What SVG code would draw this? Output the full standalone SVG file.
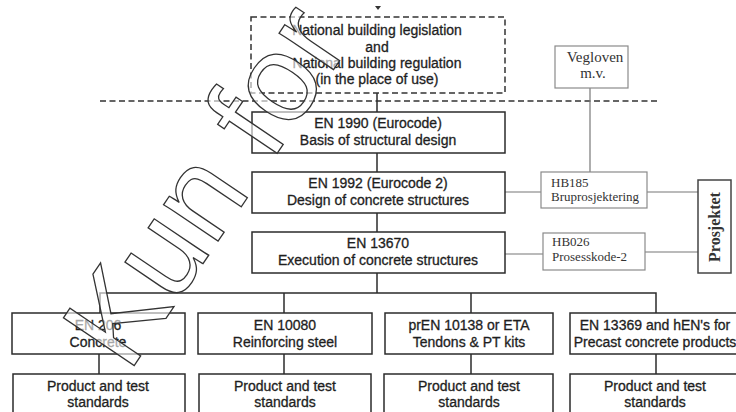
<svg xmlns="http://www.w3.org/2000/svg" width="736" height="412" viewBox="0 0 736 412">
<style>
.bx{fill:#fff;stroke:#2b2b2b;stroke-width:1.5}
.hb{fill:#fff;stroke:#8a8a8a;stroke-width:1.2}
.ds{fill:none;stroke:#333;stroke-width:1.5;stroke-dasharray:6 3.5}
.ln{fill:none;stroke:#2b2b2b;stroke-width:1.5}
.lg{fill:none;stroke:#777;stroke-width:1.2}
.t{font-family:"Liberation Sans",Arial,sans-serif;font-size:14px;fill:#1e1e1e;stroke:#1e1e1e;stroke-width:0.3;text-anchor:middle}
.s{font-family:"Liberation Serif","Times New Roman",serif;fill:#333}
.wm{font-family:"Liberation Sans",Arial,sans-serif;font-size:124px;fill:#fff;fill-opacity:0.6;stroke:#333;stroke-width:1.3}
</style>
<rect width="736" height="412" fill="#fff"/>
<g id="connectors">
<line class="ds" x1="100" y1="101" x2="658" y2="101"/>
<line class="ln" x1="377" y1="93" x2="377" y2="112"/>
<line class="ln" x1="377" y1="153" x2="377" y2="172"/>
<line class="ln" x1="377" y1="213" x2="377" y2="232"/>
<line class="ln" x1="377" y1="273" x2="377" y2="293"/>
<polyline class="ln" points="100,313 100,293 656,293 656,313"/>
<line class="ln" x1="284" y1="293" x2="284" y2="313"/>
<line class="ln" x1="471" y1="293" x2="471" y2="313"/>
<line class="ln" x1="99" y1="354" x2="99" y2="374"/>
<line class="ln" x1="284" y1="354" x2="284" y2="374"/>
<line class="ln" x1="471" y1="354" x2="471" y2="374"/>
<line class="ln" x1="656" y1="354" x2="656" y2="374"/>
<line class="lg" x1="590" y1="88" x2="590" y2="172"/>
<line class="lg" x1="505" y1="192" x2="541" y2="192"/>
<line class="lg" x1="647" y1="192" x2="698" y2="192"/>
<line class="lg" x1="505" y1="254" x2="543" y2="254"/>
<line class="lg" x1="645" y1="252" x2="698" y2="252"/>
<polygon points="375,6 381,6 378,10" fill="#333"/>
</g>
<g id="national">
<rect class="ds" x="251" y="17" width="254" height="76"/>
<text class="t" x="377" y="35">National building legislation</text>
<text class="t" x="377" y="51.5">and</text>
<text class="t" x="377" y="68">National building regulation</text>
<text class="t" x="377" y="84">(in the place of use)</text>
</g>
<g id="en1990">
<rect class="bx" x="252" y="112" width="253" height="41"/>
<text class="t" x="378" y="128">EN 1990 (Eurocode)</text>
<text class="t" x="378" y="145">Basis of structural design</text>
</g>
<g id="en1992">
<rect class="bx" x="252" y="172" width="253" height="41"/>
<text class="t" x="378" y="188">EN 1992 (Eurocode 2)</text>
<text class="t" x="378" y="205">Design of concrete structures</text>
</g>
<g id="en13670">
<rect class="bx" x="252" y="232" width="253" height="41"/>
<text class="t" x="378" y="248">EN 13670</text>
<text class="t" x="378" y="265">Execution of concrete structures</text>
</g>
<g id="vegloven">
<rect class="hb" x="555" y="46" width="73" height="42"/>
<text class="s" x="595" y="62" font-size="15" text-anchor="middle">Vegloven</text>
<text class="s" x="593" y="78" font-size="15" text-anchor="middle">m.v.</text>
</g>
<g id="hb185">
<rect class="hb" x="541" y="172" width="106" height="36"/>
<text class="s" x="551" y="187" font-size="13">HB185</text>
<text class="s" x="551" y="201" font-size="13">Bruprosjektering</text>
</g>
<g id="hb026">
<rect class="hb" x="543" y="233" width="102" height="37"/>
<text class="s" x="552" y="246" font-size="13">HB026</text>
<text class="s" x="552" y="261" font-size="13">Prosesskode-2</text>
</g>
<g id="prosjektet">
<rect x="698" y="180" width="33" height="93" fill="#fff" stroke="#444" stroke-width="1.5"/>
<text class="s" transform="translate(720,227) rotate(-90)" font-size="16" font-weight="bold" text-anchor="middle" fill="#222">Prosjektet</text>
</g>
<g id="en206">
<rect class="bx" x="12" y="313" width="173" height="41"/>
<text class="t" x="98" y="330">EN 206</text>
<text class="t" x="98" y="347">Concrete</text>
</g>
<g id="en10080">
<rect class="bx" x="198" y="313" width="174" height="41"/>
<text class="t" x="285" y="330">EN 10080</text>
<text class="t" x="285" y="347">Reinforcing steel</text>
</g>
<g id="pren10138">
<rect class="bx" x="385" y="313" width="168" height="41"/>
<text class="t" x="469" y="330">prEN 10138 or ETA</text>
<text class="t" x="469" y="347">Tendons &amp; PT kits</text>
</g>
<g id="en13369">
<rect class="bx" x="570" y="313" width="175" height="41"/>
<text class="t" x="655" y="330">EN 13369 and hEN's for</text>
<text class="t" x="655" y="347">Precast concrete products</text>
</g>
<g id="pts1">
<rect class="bx" x="13" y="374" width="172" height="50"/>
<text class="t" x="98" y="391">Product and test</text>
<text class="t" x="98" y="407">standards</text>
</g>
<g id="pts2">
<rect class="bx" x="199" y="374" width="172" height="50"/>
<text class="t" x="285" y="391">Product and test</text>
<text class="t" x="285" y="407">standards</text>
</g>
<g id="pts3">
<rect class="bx" x="384" y="374" width="169" height="50"/>
<text class="t" x="469" y="391">Product and test</text>
<text class="t" x="469" y="407">standards</text>
</g>
<g id="pts4">
<rect class="bx" x="570" y="374" width="175" height="50"/>
<text class="t" x="655" y="391">Product and test</text>
<text class="t" x="655" y="407">standards</text>
</g>
<g id="watermark">
<text class="wm" transform="translate(128.4,374) rotate(-56)">Kun for</text>
</g>
</svg>
